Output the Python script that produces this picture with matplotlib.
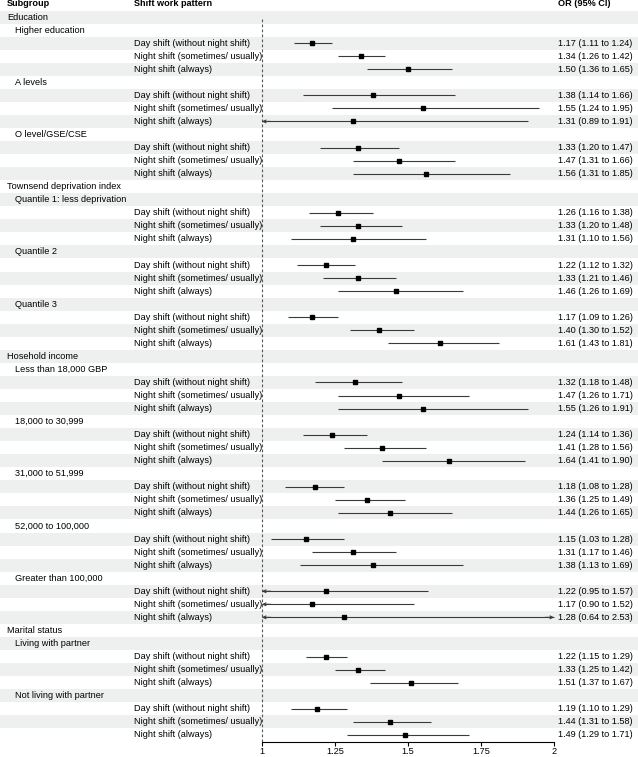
import matplotlib
matplotlib.use("Agg")
import matplotlib.pyplot as plt
import matplotlib.transforms as mtransforms

plt.rcParams['font.family'] = ['Liberation Sans', 'DejaVu Sans']

patterns = ["Day shift (without night shift)",
            "Night shift (sometimes/ usually)",
            "Night shift (always)"]

groups = [
    ("Education", [
        ("Higher education", [1.17, 1.34, 1.50], [1.11, 1.26, 1.36], [1.24, 1.42, 1.65]),
        ("A levels", [1.38, 1.55, 1.31], [1.14, 1.24, 0.89], [1.66, 1.95, 1.91]),
        ("O level/GSE/CSE", [1.33, 1.47, 1.56], [1.20, 1.31, 1.31], [1.47, 1.66, 1.85]),
    ]),
    ("Townsend deprivation index", [
        ("Quantile 1: less deprivation", [1.26, 1.33, 1.31], [1.16, 1.20, 1.10], [1.38, 1.48, 1.56]),
        ("Quantile 2", [1.22, 1.33, 1.46], [1.12, 1.21, 1.26], [1.32, 1.46, 1.69]),
        ("Quantile 3", [1.17, 1.40, 1.61], [1.09, 1.30, 1.43], [1.26, 1.52, 1.81]),
    ]),
    ("Hosehold income", [
        ("Less than 18,000 GBP", [1.32, 1.47, 1.55], [1.18, 1.26, 1.26], [1.48, 1.71, 1.91]),
        ("18,000 to 30,999", [1.24, 1.41, 1.64], [1.14, 1.28, 1.41], [1.36, 1.56, 1.90]),
        ("31,000 to 51,999", [1.18, 1.36, 1.44], [1.08, 1.25, 1.26], [1.28, 1.49, 1.65]),
        ("52,000 to 100,000", [1.15, 1.31, 1.38], [1.03, 1.17, 1.13], [1.28, 1.46, 1.69]),
        ("Greater than 100,000", [1.22, 1.17, 1.28], [0.95, 0.90, 0.64], [1.57, 1.52, 2.53]),
    ]),
    ("Marital status", [
        ("Living with partner", [1.22, 1.33, 1.51], [1.15, 1.25, 1.37], [1.29, 1.42, 1.67]),
        ("Not living with partner", [1.19, 1.44, 1.49], [1.10, 1.31, 1.29], [1.29, 1.58, 1.71]),
    ]),
]

x_ticks = [1, 1.25, 1.5, 1.75, 2]
x_tick_labels = ["1", "1.25", "1.5", "1.75", "2"]

W, H = 638, 757
fig = plt.figure(figsize=(W / 100, H / 100), dpi=100)
axis_px = 742
ax = fig.add_axes([0, (H - axis_px) / H, 1, axis_px / H])

px_one, px_two = 262, 554
unit = px_two - px_one
ax.set_xlim(1 - px_one / unit, 1 + (W - px_one) / unit)
row_h = 13.05
top_row_px = 4
ax.set_ylim((axis_px - top_row_px) / row_h, -top_row_px / row_h)

fs = 6.6
tr = mtransforms.blended_transform_factory(ax.transAxes, ax.transData)
stripe = '#eef0ef'
lo_lim, hi_lim = 1.0, 2.0

def xf(px):
    return px / W

ax.text(xf(7), 0, "Subgroup", transform=tr, fontsize=fs, fontweight='bold', va='center')
ax.text(xf(134), 0, "Shift work pattern", transform=tr, fontsize=fs, fontweight='bold', va='center')
ax.text(xf(558), 0, "OR (95% CI)", transform=tr, fontsize=fs, fontweight='bold', va='center')

row = 1
def shade(r):
    if r % 2 == 1:
        ax.axhspan(r - 0.5, r + 0.5, color=stripe, zorder=0, lw=0)

for gname, subs in groups:
    shade(row)
    ax.text(xf(7), row, gname, transform=tr, fontsize=fs, va='center')
    row += 1
    for sname, est, lo, hi in subs:
        shade(row)
        ax.text(xf(15), row, sname, transform=tr, fontsize=fs, va='center')
        row += 1
        for k in range(3):
            shade(row)
            ax.text(xf(134), row, patterns[k], transform=tr, fontsize=fs, va='center')
            ax.text(xf(558), row, f"{est[k]:.2f} ({lo[k]:.2f} to {hi[k]:.2f})",
                    transform=tr, fontsize=fs, va='center')
            a = max(lo[k], lo_lim)
            b = min(hi[k], hi_lim)
            ax.plot([a, b], [row, row], color='#3a3a3a', lw=0.8, zorder=2, solid_capstyle='butt')
            if lo[k] < lo_lim:
                ax.annotate('', xy=(lo_lim, row), xytext=(lo_lim + 0.03, row),
                            arrowprops=dict(arrowstyle='->', color='#3a3a3a', lw=0.8,
                                            mutation_scale=5, shrinkA=0, shrinkB=0))
            if hi[k] > hi_lim:
                ax.annotate('', xy=(hi_lim, row), xytext=(hi_lim - 0.03, row),
                            arrowprops=dict(arrowstyle='->', color='#3a3a3a', lw=0.8,
                                            mutation_scale=5, shrinkA=0, shrinkB=0))
            ax.plot([est[k]], [row], marker='s', color='black', markersize=3, zorder=3)
            row += 1

ybot = ax.get_ylim()[0]
ax.vlines(1, 1.15, ybot, colors='#555555', linestyles=(0, (2.5, 2)), lw=0.8, zorder=1)

for s in ['top', 'right', 'left']:
    ax.spines[s].set_visible(False)
ax.spines['bottom'].set_bounds(1, 2)
ax.spines['bottom'].set_linewidth(0.8)
ax.set_xticks(x_ticks)
ax.set_xticklabels(x_tick_labels, fontsize=fs)
ax.tick_params(axis='x', length=3, width=0.8, pad=0.5)
ax.set_yticks([])
ax.patch.set_alpha(0)

fig.savefig("out.png", dpi=100)
